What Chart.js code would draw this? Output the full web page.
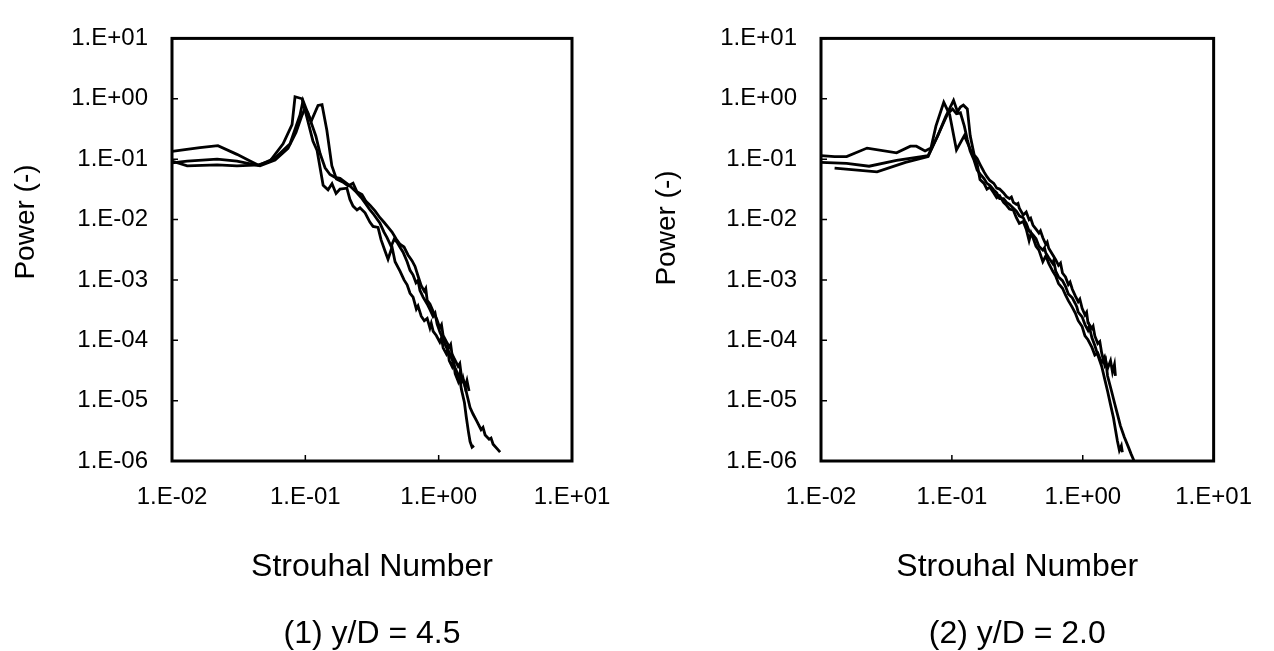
<!DOCTYPE html>
<html>
<head>
<meta charset="utf-8">
<script src="https://cdn.jsdelivr.net/npm/chart.js@4.4.1/dist/chart.umd.min.js"></script>
<style>
  body { margin: 0; background: #fff; }
  .panel { position: absolute; top: 0; width: 637px; height: 651px; }
</style>
</head>
<body>
<div class="panel" style="left:0"><canvas id="chartLeft" width="637" height="651"></canvas></div>
<div class="panel" style="left:637px"><canvas id="chartRight" width="637" height="651"></canvas></div>
<script>
// axes
const xTicks = [0.01, 0.1, 1, 10];
const xTickLabels = ['1.E-02', '1.E-01', '1.E+00', '1.E+01'];
const yTicks = [1e-6, 1e-5, 1e-4, 1e-3, 1e-2, 1e-1, 1, 10];
const yTickLabels = ['1.E-06', '1.E-05', '1.E-04', '1.E-03', '1.E-02', '1.E-01', '1.E+00', '1.E+01'];
const xTitle = 'Strouhal Number';
const yTitle = 'Power (-)';
const captions = ['(1) y/D = 4.5', '(2) y/D = 2.0'];

// (1) y/D = 4.5  -- [Strouhal, power]
const left1 = [[0.01,0.134],[0.0125,0.144],[0.0162,0.155],[0.0221,0.167],[0.0307,0.12],[0.0385,0.093],[0.0442,0.08],[0.0543,0.093],
  [0.0681,0.18],[0.0795,0.373],[0.0837,1.08],[0.0945,1.0],[0.103,0.48],[0.114,0.2],[0.1225,0.139],[0.136,0.037],[0.148,0.031],
  [0.1585,0.039],[0.17,0.027],[0.182,0.032],[0.205,0.033],[0.216,0.0215],[0.228,0.0167],[0.244,0.0144],[0.257,0.0156],[0.2805,0.0129],
  [0.3055,0.009],[0.322,0.0077],[0.351,0.0074],[0.37,0.0046],[0.396,0.003],[0.417,0.0022],[0.447,0.0035],[0.471,0.002],[0.513,0.0014],
  [0.55,0.001],[0.58,0.00083],[0.61,0.0006],[0.643,0.00052],[0.68,0.00033],[0.7,0.00037],[0.74,0.00025],[0.78,0.00021],[0.82,0.00023],
  [0.86,0.00016],[0.88,0.00019],[0.91,0.00014],[0.96,0.00012],[1.02,0.000093],[1.05,0.00011],[1.08,0.000075],[1.14,0.00006],[1.17,0.000072],
  [1.2,0.000046],[1.26,0.000037],[1.29,0.000046],[1.33,0.000028],[1.4,0.000021],[1.43,0.000026],[1.48,0.0000155],[1.56,0.0000093],
  [1.61,0.0000054],[1.67,0.0000031],[1.72,0.0000021],[1.78,0.0000017],[1.84,0.0000018]];
const left2 = [[0.01,0.093],[0.013,0.0775],[0.0218,0.0803],[0.0307,0.0775],[0.0457,0.0803],[0.0593,0.104],[0.0768,0.18],[0.0912,0.537],
  [0.0961,0.929],[0.1104,0.42],[0.1245,0.774],[0.1334,0.8],[0.145,0.3],[0.158,0.078],[0.171,0.047],[0.192,0.0416],[0.209,0.036],
  [0.228,0.04],[0.244,0.0288],[0.266,0.0259],[0.285,0.02],[0.3055,0.0173],[0.333,0.0139],[0.363,0.0107],[0.389,0.009],[0.417,0.0075],
  [0.447,0.0062],[0.479,0.0048],[0.513,0.0039],[0.55,0.0035],[0.589,0.00259],[0.631,0.00208],[0.665,0.00167],[0.7,0.00116],[0.74,0.0008],
  [0.78,0.00065],[0.8,0.00072],[0.82,0.00046],[0.86,0.0004],[0.91,0.0003],[0.97,0.00022],[1.02,0.00016],[1.05,0.00018],[1.08,0.00012],
  [1.14,0.000096],[1.2,0.000077],[1.23,0.000085],[1.26,0.000058],[1.33,0.0000465],[1.4,0.000037],[1.44,0.000041],[1.48,0.0000259],
  [1.56,0.0000193],[1.63,0.0000125],[1.72,0.0000077],[1.81,0.000006],[1.94,0.0000045],[2.08,0.0000033],[2.15,0.0000036],
  [2.23,0.0000027],[2.39,0.0000023],[2.47,0.0000024],[2.56,0.0000019],[2.74,0.0000016],[2.89,0.0000014]];
const left3 = [[0.01,0.0865],[0.013,0.093],[0.0218,0.1],[0.0307,0.093],[0.0457,0.0775],[0.0593,0.0964],[0.0741,0.15],[0.0851,0.278],
  [0.0945,0.537],[0.0995,0.694],[0.1047,0.578],[0.112,0.373],[0.12,0.24],[0.129,0.124],[0.1406,0.072],[0.153,0.0557],[0.167,0.05],
  [0.182,0.0482],[0.1985,0.0416],[0.216,0.036],[0.24,0.0288],[0.262,0.0232],[0.285,0.018],[0.3055,0.0144],[0.327,0.012],[0.363,0.00865],
  [0.389,0.0062],[0.41,0.005],[0.44,0.0036],[0.463,0.0047],[0.488,0.0042],[0.513,0.00347],[0.541,0.00288],[0.58,0.002],[0.61,0.00144],
  [0.643,0.0012],[0.676,0.000896],[0.7,0.00098],[0.724,0.000668],[0.764,0.000518],[0.82,0.0004],[0.861,0.000322],[0.908,0.000249],
  [0.94,0.00028],[0.973,0.000186],[1.024,0.000134],[1.08,0.000104],[1.14,0.000077],[1.2,0.0000622],[1.26,0.0000482],[1.33,0.0000347],
  [1.4,0.0000269],[1.48,0.00002],[1.52,0.000024],[1.58,0.0000167],[1.63,0.0000215],[1.69,0.0000144]];

// (2) y/D = 2.0
const right1 = [[0.01,0.114],[0.0127,0.11],[0.0157,0.11],[0.0225,0.1525],[0.0378,0.127],[0.0482,0.164],[0.0535,0.164],[0.0624,0.137],
  [0.0692,0.1525],[0.0755,0.352],[0.0867,0.874],[0.0962,0.545],[0.1084,0.142],[0.1245,0.245],[0.138,0.147],[0.156,0.0822],[0.164,0.0459],
  [0.176,0.0397],[0.1853,0.0319],[0.195,0.0343],[0.209,0.0276],[0.2203,0.023],[0.2317,0.0247],[0.2483,0.0192],[0.2616,0.0172],
  [0.2754,0.0149],[0.295,0.0143],[0.311,0.0107],[0.3275,0.0086],[0.351,0.00926],[0.37,0.00692],[0.389,0.00448],[0.403,0.00598],
  [0.417,0.00499],[0.4395,0.0036],[0.4625,0.00311],[0.4955,0.00201],[0.522,0.0025],[0.5495,0.00187],[0.589,0.0014],[0.621,0.00116],
  [0.653,0.00087],[0.7,0.000726],[0.738,0.000562],[0.776,0.000453],[0.832,0.000351],[0.877,0.000282],[0.923,0.000211],[0.989,0.000169],
  [1.04,0.000118],[1.096,0.000102],[1.175,0.0000762],[1.237,0.0000569],[1.303,0.0000612],[1.396,0.0000425],[1.47,0.000053],
  [1.548,0.0000342],[1.63,0.0000457],[1.688,0.0000296],[1.747,0.0000396],[1.777,0.0000256]];
const right2 = [[0.01,0.0883],[0.0157,0.0851],[0.0233,0.0763],[0.0378,0.095],[0.0658,0.114],[0.0781,0.245],[0.0897,0.507],[0.103,0.94],
  [0.1104,0.608],[0.1162,0.729],[0.1224,0.784],[0.1312,0.678],[0.138,0.245],[0.148,0.118],[0.156,0.102],[0.164,0.0822],[0.176,0.0614],
  [0.1853,0.0512],[0.195,0.0443],[0.209,0.0397],[0.2203,0.0331],[0.2317,0.0319],[0.2483,0.0276],[0.2616,0.0239],[0.2754,0.0222],
  [0.285,0.0235],[0.295,0.0192],[0.311,0.0178],[0.32,0.0185],[0.3275,0.0154],[0.351,0.0119],[0.37,0.0133],[0.389,0.00995],[0.4,0.0105],
  [0.417,0.008],[0.4395,0.00692],[0.4625,0.00598],[0.475,0.0065],[0.4955,0.00499],[0.522,0.00387],[0.535,0.0042],[0.5495,0.00334],
  [0.589,0.0026],[0.621,0.00216],[0.653,0.00174],[0.676,0.0019],[0.7,0.0013],[0.738,0.00112],[0.776,0.00084],[0.8,0.00092],[0.832,0.0007],
  [0.877,0.000543],[0.923,0.000436],[0.95,0.00048],[0.989,0.000338],[1.04,0.000262],[1.07,0.00029],[1.096,0.000196],[1.175,0.000157],
  [1.2,0.00017],[1.237,0.000118],[1.303,0.0000881],[1.35,0.000095],[1.396,0.0000612],[1.47,0.0000396],[1.5,0.000045],[1.548,0.0000256],
  [1.66,0.0000143],[1.747,0.00000923],[1.84,0.00000597],[1.938,0.00000386],[2.076,0.0000025],[2.225,0.00000173],[2.343,0.0000013],
  [2.468,0.000001],[2.6,0.0000008]];
const right3 = [[0.0127,0.071],[0.0268,0.0614],[0.0442,0.0883],[0.0658,0.11],[0.0822,0.316],[0.0929,0.565],[0.1012,0.678],[0.1084,0.565],
  [0.1162,0.586],[0.1245,0.352],[0.1312,0.2116],[0.138,0.1367],[0.148,0.095],[0.156,0.066],[0.164,0.0571],[0.176,0.0476],[0.1853,0.0397],
  [0.195,0.0369],[0.209,0.0308],[0.2203,0.0276],[0.2317,0.0222],[0.2483,0.0222],[0.2616,0.0192],[0.2754,0.0178],[0.295,0.0154],
  [0.311,0.0138],[0.3275,0.0115],[0.351,0.0107],[0.36,0.0095],[0.37,0.0086],[0.389,0.00644],[0.417,0.00557],[0.4395,0.00481],
  [0.4625,0.0036],[0.4955,0.00311],[0.51,0.0034],[0.522,0.00279],[0.5495,0.00232],[0.589,0.00187],[0.6,0.0021],[0.621,0.0014],
  [0.653,0.00112],[0.7,0.00097],[0.738,0.000781],[0.776,0.000583],[0.832,0.000505],[0.877,0.000406],[0.9,0.00036],[0.923,0.000292],
  [0.989,0.000244],[1.04,0.000182],[1.096,0.000147],[1.12,0.00017],[1.175,0.00011],[1.237,0.0000818],[1.303,0.0000569],[1.396,0.0000368],
  [1.47,0.0000229],[1.548,0.0000143],[1.63,0.0000086],[1.718,0.00000515],[1.777,0.00000333],[1.84,0.00000215],[1.905,0.0000015],
  [1.972,0.00000179],[2.007,0.0000014]];

Chart.defaults.font.family = '"Liberation Sans", Arial, sans-serif';
Chart.defaults.color = '#000';

// box around the plot, inner tick marks, rotated y title and the caption under the panel
const framePlugin = {
  id: 'frame',
  afterDatasetsDraw(chart, args, opts) {
    const { ctx, chartArea: a, scales } = chart;
    ctx.save();
    ctx.strokeStyle = '#000';
    ctx.lineWidth = 3;
    ctx.strokeRect(a.left, a.top, a.right - a.left, a.bottom - a.top);
    ctx.lineWidth = 1.5;
    ctx.beginPath();
    yTicks.forEach(v => {
      const y = scales.y.getPixelForValue(v);
      ctx.moveTo(a.left, y); ctx.lineTo(a.left + 6, y);
    });
    xTicks.forEach(v => {
      const x = scales.x.getPixelForValue(v);
      ctx.moveTo(x, a.bottom); ctx.lineTo(x, a.bottom - 6);
    });
    ctx.stroke();

    ctx.fillStyle = '#000';
    ctx.textAlign = 'center';
    ctx.textBaseline = 'middle';
    ctx.font = '32px "Liberation Sans", Arial, sans-serif';
    ctx.fillText(opts.caption, (a.left + a.right) / 2, opts.captionY);

    ctx.translate(opts.titleX, opts.titleY);
    ctx.rotate(-Math.PI / 2);
    ctx.font = '28px "Liberation Sans", Arial, sans-serif';
    ctx.fillText(yTitle, 0, 0);
    ctx.restore();
  }
};

function buildChart(canvasId, series, caption, box) {
  const ctx = document.getElementById(canvasId).getContext('2d');
  return new Chart(ctx, {
    type: 'scatter',
    data: {
      datasets: series.map(pts => ({
        data: pts.map(p => ({ x: p[0], y: p[1] })),
        showLine: true,
        borderColor: '#000',
        borderWidth: 2.8,
        pointRadius: 0,
        tension: 0
      }))
    },
    options: {
      responsive: false,
      animation: false,
      layout: { padding: { left: 0, right: box.padRight, top: box.padTop, bottom: 0 } },
      plugins: {
        legend: { display: false },
        tooltip: { enabled: false },
        frame: { titleX: box.titleX, titleY: box.titleY, caption: caption, captionY: 634 }
      },
      scales: {
        x: {
          type: 'logarithmic', min: 0.01, max: 10,
          grid: { display: false, drawTicks: false }, border: { display: false },
          ticks: { padding: 22, maxRotation: 0, autoSkip: false, font: { size: 24 },
            callback: (v, i) => xTickLabels[i] },
          afterBuildTicks: s => { s.ticks = xTicks.map(v => ({ value: v })); },
          afterFit: s => { s.height = 190; },
          title: { display: true, text: xTitle, font: { size: 32 }, padding: { top: 0, bottom: 65 } }
        },
        y: {
          type: 'logarithmic', min: 1e-6, max: 10,
          grid: { display: false, drawTicks: false }, border: { display: false },
          ticks: { padding: 24, autoSkip: false, font: { size: 24 },
            callback: (v, i) => yTickLabels[i] },
          afterBuildTicks: s => { s.ticks = yTicks.map(v => ({ value: v })); },
          afterFit: s => { s.width = box.yWidth; }
        }
      }
    },
    plugins: [framePlugin]
  });
}

buildChart('chartLeft', [left1, left2, left3], captions[0],
  { yWidth: 172, padRight: 65, padTop: 21, titleX: 26, titleY: 222 });
buildChart('chartRight', [right1, right2, right3], captions[1],
  { yWidth: 184, padRight: 53, padTop: 18, titleX: 30, titleY: 228 });
</script>
</body>
</html>
